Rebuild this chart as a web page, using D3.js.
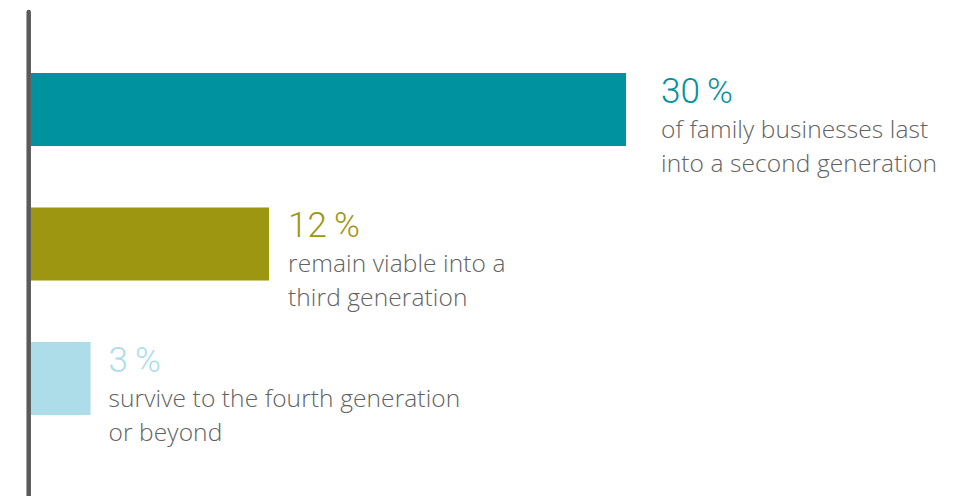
<!DOCTYPE html>
<html>
<head>
<meta charset="utf-8">
<script src="https://cdn.jsdelivr.net/npm/d3@7"></script>
<style>
  html, body { margin: 0; padding: 0; background: #fff; }
  svg { display: block; }
  .pct { font-family: Roboto, "Open Sans", sans-serif; font-weight: 300; font-size: 35px; }
  .desc { font-family: "Open Sans", Roboto, sans-serif; font-weight: 300; font-size: 24.5px; letter-spacing: 0.1px; fill: #626262; }
</style>
</head>
<body>
<div id="chart"></div>
<script>
// data
let categories = ['second', 'third', 'fourth'];
let values = [30, 12, 3];
let pctLabels = ['30\u2009%', '12\u2009%', '3\u2009%'];
let descLines = [
    ['of family businesses last', 'into a second generation'],
    ['remain viable into a', 'third generation'],
    ['survive to the fourth generation', 'or beyond']
];
let colors = ['#00929f', '#9c9610', '#acdde8'];

// layout (not data)
let labelGap = [35, 19, 18];

let width = 959, height = 496;
let x0 = 31;

let svg = d3.select('#chart').append('svg')
    .attr('width', width)
    .attr('height', height);

let x = d3.scaleLinear().domain([0, 30]).range([x0, 626]);
let y = d3.scaleBand().domain(categories).range([73, 415]).paddingInner(0.457).paddingOuter(0);

let rows = categories.map((c, i) => ({cat: c, value: values[i], pct: pctLabels[i], lines: descLines[i], color: colors[i], gap: labelGap[i]}));

svg.selectAll('rect.bar')
    .data(rows)
    .enter().append('rect')
    .attr('class', 'bar')
    .attr('x', x(0))
    .attr('y', d => y(d.cat))
    .attr('width', d => x(d.value) - x(0))
    .attr('height', y.bandwidth())
    .attr('fill', d => d.color);

// vertical axis line
svg.append('line')
    .attr('x1', 28.7).attr('x2', 28.7)
    .attr('y1', 12).attr('y2', height + 10)
    .attr('stroke', '#5a5a5a')
    .attr('stroke-width', 4.5)
    .attr('stroke-linecap', 'round');

let labels = svg.selectAll('g.lab')
    .data(rows)
    .enter().append('g')
    .attr('class', 'lab')
    .attr('transform', d => 'translate(' + (x(d.value) + d.gap) + ',' + y(d.cat) + ')');

labels.append('text')
    .attr('class', 'pct')
    .attr('y', 30)
    .attr('fill', d => d.color)
    .text(d => d.pct);

labels.each(function (d) {
    let g = d3.select(this);
    d.lines.forEach((t, j) => {
        g.append('text')
            .attr('class', 'desc')
            .attr('y', 65 + j * 34)
            .text(t);
    });
});
</script>
</body>
</html>
